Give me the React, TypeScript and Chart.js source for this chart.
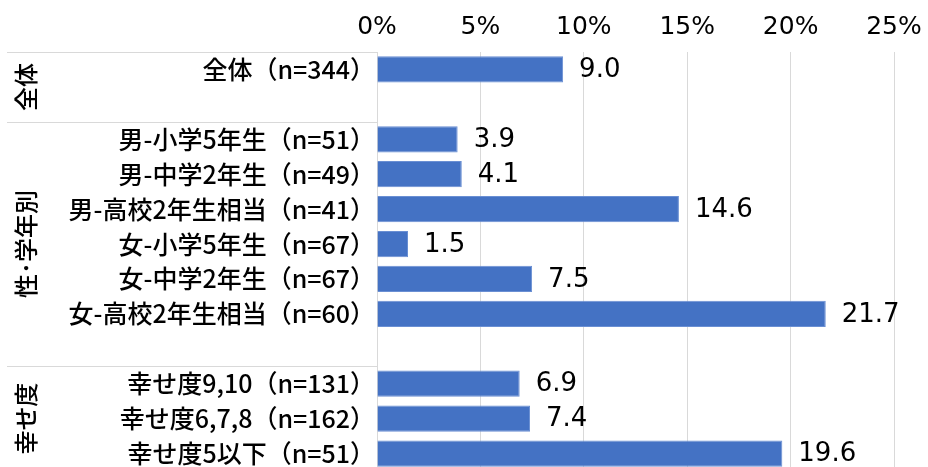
import React, { useEffect, useRef } from "react";
import { Chart, registerables } from "chart.js";

Chart.register(...registerables);

const categories: string[] = [
  "全体（n=344）",
  "",
  "男-小学5年生（n=51）",
  "男-中学2年生（n=49）",
  "男-高校2年生相当（n=41）",
  "女-小学5年生（n=67）",
  "女-中学2年生（n=67）",
  "女-高校2年生相当（n=60）",
  "",
  "幸せ度9,10（n=131）",
  "幸せ度6,7,8（n=162）",
  "幸せ度5以下（n=51）",
];

const values: (number | null)[] = [9.0, null, 3.9, 4.1, 14.6, 1.5, 7.5, 21.7, null, 6.9, 7.4, 19.6];

const groupLabels: string[] = ["全体", "性･学年別", "幸せ度"];
const groupStarts: number[] = [0, 2, 9];
const groupEnds: number[] = [1, 8, 11];

const xTicks: number[] = [0, 5, 10, 15, 20, 25];

const FONT = "'Noto Sans CJK JP', 'Noto Sans', sans-serif";
const NUMFONT = "'DejaVu Sans', 'Noto Sans CJK JP', sans-serif";

const sectionPlugin = {
  id: "sections",
  afterDraw(chart: any) {
    const { ctx, chartArea } = chart;
    const x = chart.scales.x;
    const y = chart.scales.y;
    const rowH = y.getPixelForValue(1) - y.getPixelForValue(0);
    ctx.save();
    ctx.strokeStyle = "#d9d9d9";
    ctx.lineWidth = 1;
    groupLabels.forEach((label, gi) => {
      const top = y.getPixelForValue(groupStarts[gi]) - rowH / 2;
      const bottom = y.getPixelForValue(groupEnds[gi]) + rowH / 2;
      ctx.beginPath();
      ctx.moveTo(7, Math.round(top) + 0.5);
      ctx.lineTo(chartArea.left, Math.round(top) + 0.5);
      ctx.stroke();
      if (gi === groupLabels.length - 1) {
        ctx.beginPath();
        ctx.moveTo(7, Math.round(bottom) + 0.5);
        ctx.lineTo(chartArea.left, Math.round(bottom) + 0.5);
        ctx.stroke();
      }
      ctx.save();
      ctx.translate(26, (top + bottom) / 2);
      ctx.rotate(-Math.PI / 2);
      ctx.fillStyle = "#000";
      ctx.font = `500 24px ${FONT}`;
      ctx.textAlign = "center";
      ctx.textBaseline = "middle";
      ctx.fillText(label, 0, 0);
      ctx.restore();
    });
    ctx.fillStyle = "#000";
    ctx.font = `26px ${NUMFONT}`;
    ctx.textAlign = "left";
    ctx.textBaseline = "middle";
    values.forEach((v, i) => {
      if (v === null) return;
      ctx.fillText(v.toFixed(1), x.getPixelForValue(v) + 16, y.getPixelForValue(i) + 1);
    });
    ctx.restore();
  },
};

export default function App() {
  const ref = useRef<HTMLCanvasElement | null>(null);

  useEffect(() => {
    if (!ref.current) return;
    const chart = new Chart(ref.current, {
      type: "bar",
      data: {
        labels: categories,
        datasets: [
          {
            data: values as any,
            backgroundColor: "#4472C4",
            borderColor: "#6a8fd3",
            borderWidth: 1,
            barPercentage: 0.75,
            categoryPercentage: 1,
          },
        ],
      },
      options: {
        indexAxis: "y",
        animation: false,
        responsive: false,
        maintainAspectRatio: false,
        devicePixelRatio: 1,
        layout: { padding: { left: 0, right: 34, top: 0, bottom: 9 } },
        plugins: {
          legend: { display: false },
          tooltip: { enabled: false },
        },
        scales: {
          x: {
            position: "top",
            min: 0,
            max: 25,
            afterBuildTicks: (scale: any) => {
              scale.ticks = xTicks.map((v) => ({ value: v }));
            },
            afterFit: (scale: any) => {
              scale.height = 52;
              scale.paddingLeft = 0;
              scale.paddingRight = 0;
            },
            ticks: {
              callback: (v: any) => v + "%",
              color: "#000",
              padding: 10,
              font: { family: NUMFONT, size: 25 },
            },
            grid: { color: "#d9d9d9", drawTicks: false, lineWidth: 1 },
            border: { display: false },
          },
          y: {
            afterFit: (scale: any) => {
              scale.width = 377;
              scale.paddingTop = 0;
              scale.paddingBottom = 0;
            },
            ticks: {
              color: "#000",
              padding: 2,
              autoSkip: false,
              font: { family: FONT, size: 25, weight: "500" as any },
            },
            grid: { display: false, drawTicks: false },
            border: { display: true, color: "#d9d9d9", width: 1 },
          },
        },
      },
      plugins: [sectionPlugin],
    });
    return () => chart.destroy();
  }, []);

  return (
    <div style={{ position: "fixed", left: 0, top: 0, width: 928, height: 467, overflow: "hidden", background: "#fff" }}>
      <canvas ref={ref} width={928} height={480} style={{ display: "block", width: 928, height: 480 }} />
    </div>
  );
}
